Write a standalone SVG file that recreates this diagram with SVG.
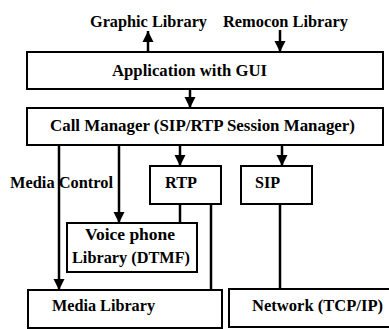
<svg xmlns="http://www.w3.org/2000/svg" width="389" height="329" viewBox="0 0 389 329">
<style>
.box{fill:#fff;stroke:#000;stroke-width:2}
.t{font-family:"Liberation Serif","Times New Roman",serif;font-weight:bold;font-size:16px;fill:#000}
.ln{stroke:#000;stroke-width:2.5;fill:none}
.ar{marker-end:url(#ah)}
</style>
<defs>
<marker id="ah" viewBox="0 0 10 10" refX="10" refY="5" markerWidth="11" markerHeight="12" markerUnits="userSpaceOnUse" orient="auto">
<path d="M0,0 L10,5 L0,10 z" fill="#000"/>
</marker>
</defs>
<rect width="389" height="329" fill="#fff"/>
<g id="connectors">
<line class="ln ar" x1="148" y1="52" x2="148" y2="31"/>
<line class="ln ar" x1="280" y1="30" x2="280" y2="52"/>
<line class="ln ar" x1="190" y1="89" x2="190" y2="108"/>
<line class="ln ar" x1="59" y1="145" x2="59" y2="290"/>
<line class="ln ar" x1="119" y1="145" x2="119" y2="223"/>
<line class="ln ar" x1="180" y1="145" x2="180" y2="166"/>
<line class="ln ar" x1="282" y1="145" x2="282" y2="166"/>
<line class="ln" x1="180" y1="204" x2="180" y2="223"/>
<line class="ln" x1="211" y1="204" x2="211" y2="290"/>
<line class="ln" x1="280" y1="204" x2="280" y2="289"/>
</g>
<g id="graphic-library"><text class="t" x="90" y="27" textLength="117" lengthAdjust="spacingAndGlyphs">Graphic Library</text></g>
<g id="remocon-library"><text class="t" x="223" y="27" textLength="125" lengthAdjust="spacingAndGlyphs">Remocon Library</text></g>
<g id="application"><rect class="box" x="27" y="52" width="356" height="37"/><text class="t" x="112" y="76" textLength="155" lengthAdjust="spacingAndGlyphs">Application with GUI</text></g>
<g id="call-manager"><rect class="box" x="27" y="108" width="356" height="37"/><text class="t" x="50" y="131" textLength="305" lengthAdjust="spacingAndGlyphs">Call Manager (SIP/RTP Session Manager)</text></g>
<g id="media-control-label"><text class="t" x="10" y="188" textLength="103" lengthAdjust="spacingAndGlyphs">Media Control</text></g>
<g id="rtp"><rect class="box" x="150" y="166" width="71" height="38"/><text class="t" x="165" y="188" textLength="32" lengthAdjust="spacingAndGlyphs">RTP</text></g>
<g id="sip"><rect class="box" x="241" y="166" width="71" height="38"/><text class="t" x="255" y="188" textLength="25" lengthAdjust="spacingAndGlyphs">SIP</text></g>
<g id="voice-phone"><rect class="box" x="67" y="223" width="130" height="49"/><text class="t" x="85" y="240" textLength="90" lengthAdjust="spacingAndGlyphs">Voice phone</text><text class="t" x="72" y="263" textLength="118" lengthAdjust="spacingAndGlyphs">Library (DTMF)</text></g>
<g id="media-library"><rect class="box" x="28" y="290" width="194" height="38"/><text class="t" x="52" y="311" textLength="103" lengthAdjust="spacingAndGlyphs">Media Library</text></g>
<g id="network"><rect class="box" x="229" y="289" width="170" height="38"/><text class="t" x="252" y="311" textLength="131" lengthAdjust="spacingAndGlyphs">Network (TCP/IP)</text></g>
</svg>
